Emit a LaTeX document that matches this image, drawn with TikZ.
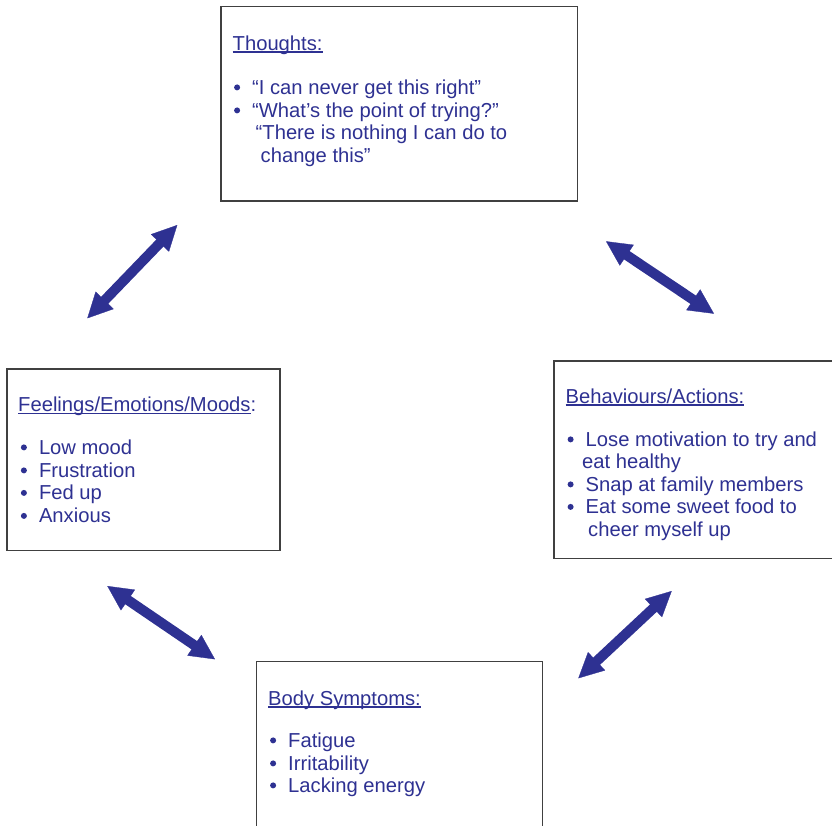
\documentclass[tikz,border=0pt]{standalone}
\usepackage{fontspec}
\setmainfont{Liberation Sans}
\usetikzlibrary{arrows.meta}
\definecolor{tblue}{RGB}{46,49,146}
\definecolor{boxgray}{RGB}{64,64,64}
\newcommand\ulin[1]{\setbox0\hbox{#1}\rlap{\rule[-2.8pt]{\wd0}{1.6pt}}\box0}
\newcommand\bl{\llap{\hbox to 18.5pt{\hskip0.4pt\tikz[x=1pt,y=1pt,baseline=0pt]\fill[tblue] (3,6.6) circle (3pt);\hss}}}
\tikzset{
  box/.style={draw=boxgray, line width=1.5pt, fill=white, inner sep=0pt, outer sep=0pt},
  txt/.style={anchor=base west, inner sep=0pt, text=tblue, font=\fontsize{20.2}{23}\selectfont},
  shaft/.style={draw=tblue, line width=10pt, shorten <=20pt, shorten >=20pt},
  heads/.style={draw=tblue, fill=tblue, line width=0.3pt,
    {Triangle[length=25pt,width=25pt]}-{Triangle[length=25pt,width=25pt]}}
}
\begin{document}
\begin{tikzpicture}[x=1pt,y=-1pt]
\useasboundingbox (0,0) rectangle (832,825);
\clip (0,0) rectangle (832,825);
% boxes
\node[box, minimum width=356.5pt, minimum height=194.5pt] (thoughts) at (399.25,103.5) {};
\node[box, minimum width=273pt, minimum height=181.5pt] (feelings) at (143.5,459.75) {};
\node[box, minimum width=286pt, minimum height=197.3pt] (behav) at (697,459.65) {};
\node[box, minimum width=285.6pt, minimum height=173.3pt] (body) at (399.5,748.35) {};
% Thoughts
\node[txt] (th0) at (232.5,50) {\ulin{Thoughts:}};
\node[txt] (th1) at (252,94) {\bl “I can never get this right”};
\node[txt] (th2) at (252,117) {\bl “What’s the point of trying?”};
\node[txt] (th3) at (255.5,139.5) {“There is nothing I can do to};
\node[txt] (th4) at (260.5,162) {change this”};
% Feelings
\node[txt] (fe0) at (18,411.5) {\ulin{Feelings/Emotions/Moods}:};
\node[txt] (fe1) at (38.8,454) {\bl Low mood};
\node[txt] (fe2) at (38.8,477) {\bl Frustration};
\node[txt] (fe3) at (38.8,499.5) {\bl Fed up};
\node[txt] (fe4) at (38.8,522.5) {\bl Anxious};
% Behaviours
\node[txt] (be0) at (565.5,403) {\ulin{Behaviours/Actions:}};
\node[txt] (be1) at (585.5,446) {\bl Lose motivation to try and};
\node[txt] (be2) at (582,468.5) {eat healthy};
\node[txt] (be3) at (585.5,491) {\bl Snap at family members};
\node[txt] (be4) at (585.5,513.5) {\bl Eat some sweet food to};
\node[txt] (be5) at (588,536) {cheer myself up};
% Body
\node[txt] (bo0) at (268,705) {\ulin{Body Symptoms:}};
\node[txt] (bo1) at (288,747) {\bl Fatigue};
\node[txt] (bo2) at (288,770) {\bl Irritability};
\node[txt] (bo3) at (288,792) {\bl Lacking energy};
% arrows
\coordinate (a1s) at (87.3,318.3); \coordinate (a1e) at (177.3,225);
\coordinate (a2s) at (606,241.3);  \coordinate (a2e) at (714,313.7);
\coordinate (a3s) at (107.3,586);  \coordinate (a3e) at (215,659.3);
\coordinate (a4s) at (671.7,591);  \coordinate (a4e) at (578.3,678.3);
\foreach \a in {a1,a2,a3,a4}{
  \draw[shaft] (\a s) -- (\a e);
  \draw[heads] (\a s) -- (\a e);
}
\end{tikzpicture}
\end{document}
